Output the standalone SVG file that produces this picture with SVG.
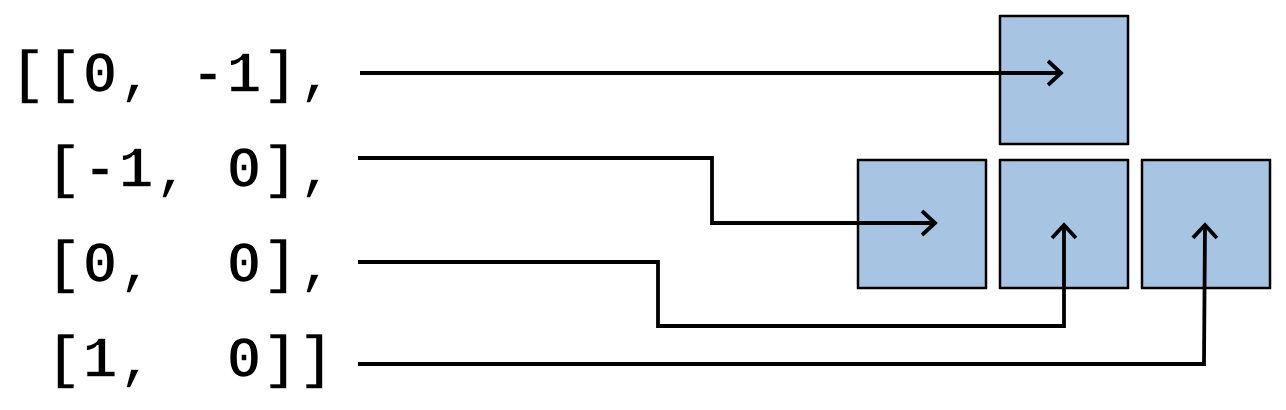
<svg xmlns="http://www.w3.org/2000/svg" width="1286" height="410" viewBox="0 0 1286 410">
<style>
.code{font-family:"Liberation Mono","DejaVu Sans Mono",monospace;font-size:60px;font-weight:bold;fill:#000;stroke:#fff;stroke-width:1.7;paint-order:fill stroke;white-space:pre}
.box{fill:#a8c4e3;stroke:#000;stroke-width:2.5}
.conn{fill:none;stroke:#000;stroke-width:3.8;marker-end:url(#chev)}
</style>
<defs>
<marker id="chev" markerUnits="userSpaceOnUse" orient="auto" markerWidth="30" markerHeight="30" refX="0" refY="0" viewBox="-16 -15 20 30" overflow="visible">
<path d="M-13,-12 L0,0 L-13,12" fill="none" stroke="#000" stroke-width="3.8"/>
</marker>
</defs>
<g id="text">
<text class="code" x="10" y="92" xml:space="preserve">[[0, -1],</text>
<text class="code" x="46" y="187" xml:space="preserve">[-1, 0],</text>
<text class="code" x="46" y="282" xml:space="preserve">[0,  0],</text>
<text class="code" x="46" y="377" xml:space="preserve">[1,  0]]</text>
</g>
<g id="node-top"><rect class="box" x="1000" y="16" width="128" height="128"/></g>
<g id="node-left"><rect class="box" x="858" y="160" width="128" height="128"/></g>
<g id="node-center"><rect class="box" x="1000" y="160" width="128" height="128"/></g>
<g id="node-right"><rect class="box" x="1142" y="160" width="128" height="128"/></g>
<g id="connectors">
<path class="conn" d="M360,73 L1061,73"/>
<path class="conn" d="M358,158 L712,158 L712,223 L935,223"/>
<path class="conn" d="M358,262 L658,262 L658,326 L1064,326 L1064,225"/>
<path class="conn" d="M358,364 L1204,364 L1205,225"/>
</g>
</svg>
